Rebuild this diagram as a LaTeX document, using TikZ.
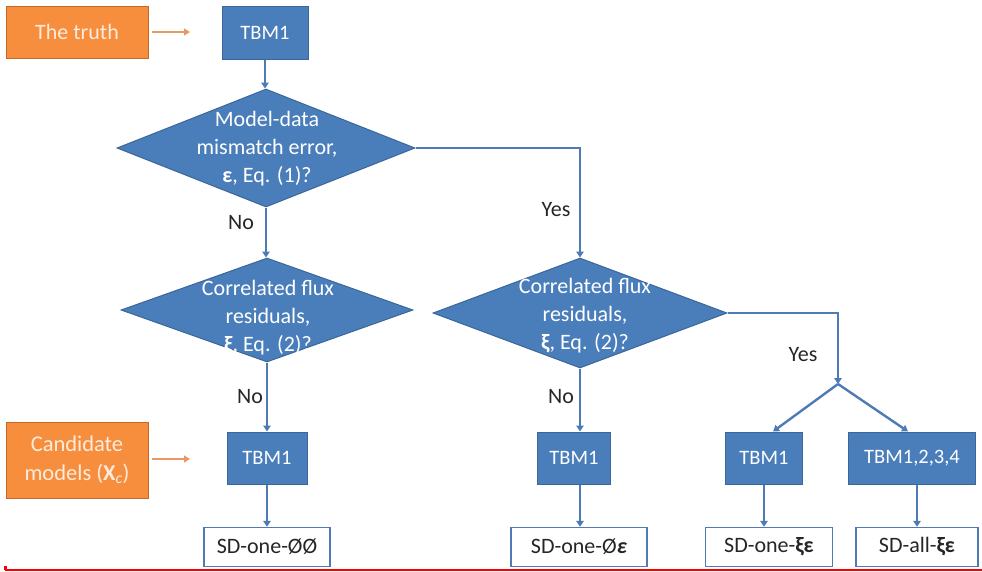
\documentclass[tikz,border=0pt]{standalone}
\usepackage{fontspec}
\setmainfont{Carlito}
\usetikzlibrary{shapes.geometric,arrows.meta}
\definecolor{bfill}{HTML}{4A7EBB}
\definecolor{bdraw}{HTML}{3A6699}
\definecolor{ofill}{HTML}{F68E3E}
\definecolor{odraw}{HTML}{C46A28}
\definecolor{lcol}{HTML}{4F7BB5}
\definecolor{oline}{HTML}{E99A63}
\definecolor{otext}{HTML}{FDEBDD}
\begin{document}
\begin{tikzpicture}[x=1pt,y=-1pt, font=\fontsize{22}{28}\selectfont,
 bbox/.style={rectangle, fill=bfill, draw=bdraw, line width=1pt, text=white, inner sep=0pt, minimum height=52pt, font=\fontsize{20.5}{25}\selectfont},
 obox/.style={rectangle, fill=ofill, draw=odraw, line width=1pt, text=otext, align=center, inner sep=0pt},
 dbox/.style={diamond, fill=bfill, draw=bdraw, line width=1pt, inner sep=0pt},
 dtext/.style={text=white, align=center, inner sep=0pt},
 sdbox/.style={rectangle, fill=white, draw=lcol, line width=1.4pt, text=black!85, inner sep=0pt, minimum height=39pt},
 arr/.style={draw=lcol, line width=2.4pt, -{Triangle[length=6pt,width=7.5pt]}},
 oarr/.style={draw=oline, line width=2pt, -{Triangle[length=6pt,width=7pt]}},
 lab/.style={text=black!85, inner sep=0pt}]
\useasboundingbox (0,0) rectangle (982,571);

% top row
\node[obox, minimum width=142pt, minimum height=52pt] (truth) at (77,32) {The truth};
\node[bbox, minimum width=86pt, minimum height=53pt] (tbmA) at (265,33) {TBM1};
\coordinate (truthEnd) at (190,32);
\draw[oarr] ([xshift=3pt]truth.east) -- (truthEnd);

% diamonds
\node[dbox, minimum width=298pt, minimum height=118pt] (d1) at (266,148) {};
\node[dtext] (d1t) at (267,149) {Model-data\\mismatch error,\\\textbf{ε}, Eq. (1)?};
\node[dbox, minimum width=292pt, minimum height=104pt] (d3) at (267,310) {};
\node[dtext] (d3t) at (268,318) {Correlated flux\\residuals,\\\textbf{ξ}, Eq. (2)?};
\node[dbox, minimum width=294pt, minimum height=110pt] (d2) at (580,313) {};
\node[dtext] (d2t) at (585,316) {Correlated flux\\residuals,\\\textbf{ξ}, Eq. (2)?};

% middle row boxes
\node[obox, minimum width=142pt, minimum height=76pt, font=\fontsize{22.5}{29}\selectfont] (cand) at (77,460) {Candidate\\models (\textbf{X}\textsubscript{\textit{c}})};
\coordinate (candEnd) at (190,459);
\draw[oarr] ([xshift=3pt]cand.east |- candEnd) -- (candEnd);
\node[bbox, minimum width=80pt] (tbmB) at (267,458) {TBM1};
\node[bbox, minimum width=73pt] (tbmM) at (574,458) {TBM1};
\node[bbox, minimum width=77pt] (tbmC) at (764,458) {TBM1};
\node[bbox, minimum width=127pt] (tbmD) at (912,458) {TBM1,2,3,4};

% bottom row
\node[sdbox, minimum width=126pt] (sdA) at (267,547) {SD-one-ØØ};
\node[sdbox, minimum width=136pt] (sdB) at (579,547) {SD-one-Ø\textbf{\textit{ε}}};
\node[sdbox, minimum width=127pt] (sdC) at (769,547) {SD-one-\textbf{ξε}};
\node[sdbox, minimum width=122pt] (sdD) at (917,547) {SD-all-\textbf{ξε}};

% connectors
\draw[arr] (tbmA.south) -- (tbmA.south |- d1.north);
\draw[arr] (d1.south) -- (d1.south |- d3.north);
\draw[arr] (d1.east) -| (d2.north);
\draw[arr] (d3.south) -- (d3.south |- tbmB.north);
\draw[arr] (d2.south) -- (d2.south |- tbmM.north);
\coordinate (split) at (838,384);
\draw[arr] (d2.east) -| (split);
\draw[arr] (split) -- ([xshift=9pt]tbmC.north);
\draw[arr] (split) -- ([xshift=-4pt]tbmD.north);
\draw[arr] (tbmB.south) -- (tbmB.south |- sdA.north);
\draw[arr] (tbmM.south -| d2.south) -- (d2.south |- sdB.north);
\draw[arr] (tbmC.south) -- (tbmC.south |- sdC.north);
\draw[arr] (tbmD.south -| sdD.north) -- (sdD.north);

% labels
\node[lab] (yes1) at (556,210) {Yes};
\node[lab] (no1) at (241,223) {No};
\node[lab] (no2) at (250,397) {No};
\node[lab] (no3) at (561,397) {No};
\node[lab] (yes2) at (803,355) {Yes};

% bottom red rule
\draw[red, line width=1.5pt] (5,570) -- (982,570);
\fill[red] (4,566) rectangle (7,570);
\end{tikzpicture}
\end{document}
